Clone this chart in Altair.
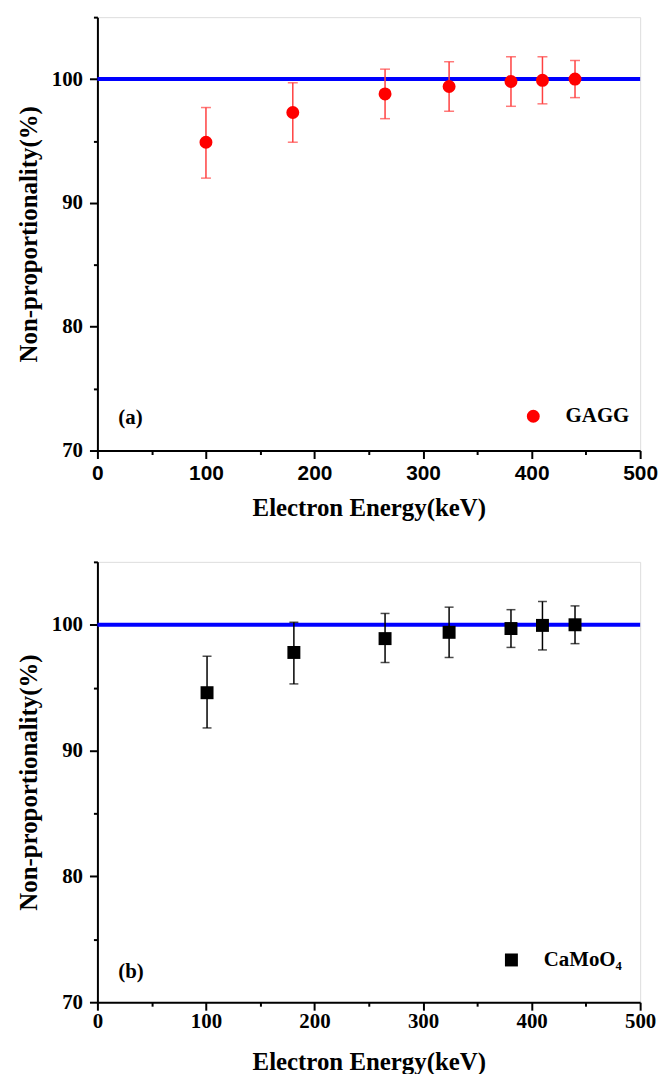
import altair as alt
import pandas as pd

# ---- data ----
energy_a = [100, 180, 265, 324, 381, 410, 440]
np_a = [94.9, 97.3, 98.8, 99.4, 99.8, 99.9, 100.0]
lo_a = [92.0, 94.9, 96.8, 97.4, 97.8, 98.0, 98.5]
hi_a = [97.7, 99.7, 100.8, 101.4, 101.8, 101.8, 101.5]

energy_b = [101, 181, 265, 324, 381, 410, 440]
np_b = [94.6, 97.8, 98.9, 99.4, 99.7, 99.95, 100.0]
lo_b = [91.8, 95.3, 97.0, 97.4, 98.2, 98.0, 98.5]
hi_b = [97.5, 100.2, 100.9, 101.4, 101.2, 101.85, 101.5]

x_ticks = [0, 50, 100, 150, 200, 250, 300, 350, 400, 450, 500]
y_ticks = [70, 75, 80, 85, 90, 95, 100, 105]
reference_level = 100

SERIF = "Liberation Serif"
NARROW = "Liberation Sans Narrow, Liberation Sans"


def panel(energy, vals, lo, hi, name, shape, color, bar_color, label, w, h,
          xlabel_font, legend_x, legend_y, tag_y, cap, xlab_pad, xtitle_pad):
    df = pd.DataFrame({"E": energy, "v": vals, "lo": lo, "hi": hi,
                       "series": [name] * len(energy)})
    xs = alt.Scale(domain=[0, 500], nice=False, zero=False)
    ys = alt.Scale(domain=[70, 105], nice=False, zero=False)
    xaxis = alt.Axis(
        values=x_ticks, title="Electron Energy(keV)", grid=False,
        labelExpr="datum.value % 100 === 0 ? datum.label : ''",
        tickSize={"condition": {"test": "datum.value % 100 === 0", "value": 8}, "value": 4},
        tickWidth=2, tickColor="black", domainColor="black", domainWidth=2,
        labelFont=xlabel_font, labelFontSize=21, labelFontWeight="bold",
        labelColor="black", labelPadding=xlab_pad, labelFlush=False,
        titleFont=SERIF, titleFontSize=25, titleFontWeight="bold",
        titleColor="black", titlePadding=xtitle_pad,
    )
    yaxis = alt.Axis(
        values=y_ticks, title="Non-proportionality(%)", grid=False,
        labelExpr="datum.value % 10 === 0 ? datum.label : ''",
        tickSize={"condition": {"test": "datum.value % 10 === 0", "value": 8}, "value": 4},
        tickWidth=2, tickColor="black", domainColor="black", domainWidth=2,
        labelFont=SERIF, labelFontSize=21, labelFontWeight="bold",
        labelColor="black", labelPadding=7,
        titleFont=SERIF, titleFontSize=25, titleFontWeight="bold",
        titleColor="black", titlePadding=10,
    )
    base = alt.Chart(df)
    rule = base.mark_rule(color=bar_color, strokeWidth=1.5).encode(
        x=alt.X("E:Q", scale=xs, axis=xaxis),
        y=alt.Y("lo:Q", scale=ys, axis=yaxis),
        y2="hi:Q",
    )
    cap_lo = base.mark_tick(color=bar_color, orient="horizontal", size=cap,
                            thickness=1.5).encode(x="E:Q", y="lo:Q")
    cap_hi = base.mark_tick(color=bar_color, orient="horizontal", size=cap,
                            thickness=1.5).encode(x="E:Q", y="hi:Q")
    ref = alt.Chart(pd.DataFrame({"ref": [reference_level]})).mark_rule(
        color="#0000ff", strokeWidth=4).encode(y="ref:Q")
    pts = base.mark_point(filled=True, opacity=1, size=170).encode(
        x="E:Q", y="v:Q",
        color=alt.Color("series:N",
                        scale=alt.Scale(domain=[name], range=[color]),
                        legend=alt.Legend(
                            title=None, orient="none", legendX=legend_x,
                            legendY=legend_y, symbolSize=170,
                            symbolStrokeWidth=0, labelFont=SERIF,
                            labelFontSize=21, labelFontWeight="bold",
                            labelColor="black", labelOffset=22)),
        shape=alt.Shape("series:N",
                        scale=alt.Scale(domain=[name], range=[shape]),
                        legend=None),
    )
    tag = alt.Chart(pd.DataFrame({"t": [label]})).mark_text(
        font=SERIF, fontSize=21, fontWeight="bold", color="black",
        align="left", baseline="middle").encode(
        text="t:N", x=alt.value(21), y=alt.value(tag_y))
    return alt.layer(ref, rule, cap_lo, cap_hi, pts, tag).properties(
        width=w, height=h)


pa = panel(energy_a, np_a, lo_a, hi_a, "GAGG", "circle", "#ff0000",
           "#ff4040", "(a)", 546, 436, NARROW, 428, 436 - 45, 436 - 33,
           10, 4, 12)
pb = panel(energy_b, np_b, lo_b, hi_b, "CaMoO₄", "square", "#000000",
           "#000000", "(b)", 546, 443, SERIF, 406, 443 - 53, 443 - 30,
           9, 0, 19)

chart = alt.vconcat(pa, pb, spacing=39).resolve_scale(
    color="independent", shape="independent"
).properties(
    padding={"left": 16, "top": 12, "right": 5, "bottom": 0}
).configure_view(
    stroke="black", strokeWidth=2
).configure(background="white")

chart.save("out.html", embed_options={"renderer": "svg", "actions": False})
